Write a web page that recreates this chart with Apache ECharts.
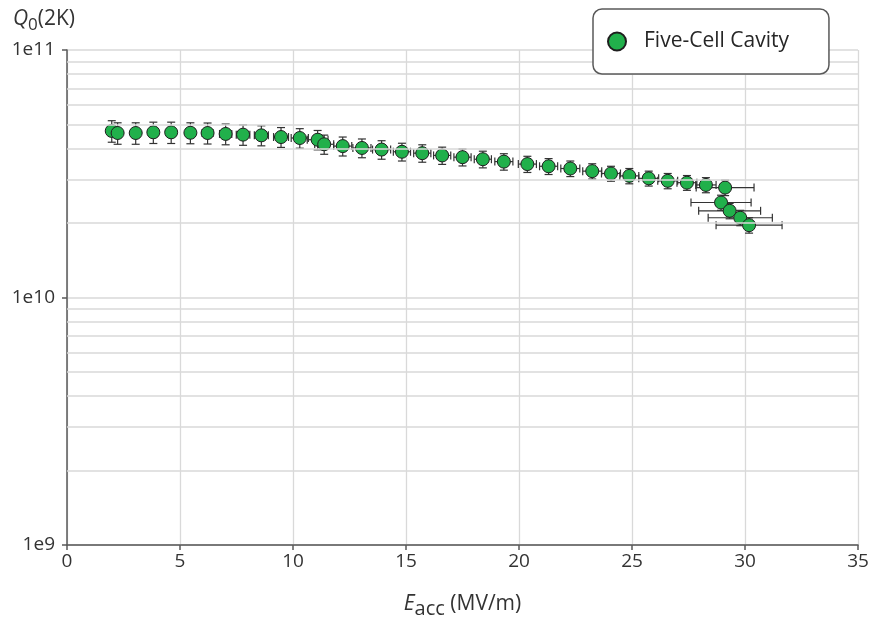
<!DOCTYPE html>
<html><head><meta charset="utf-8">
<script src="https://cdn.jsdelivr.net/npm/echarts@6/dist/echarts.min.js"></script>
<style>html,body{margin:0;padding:0;background:#fff}#chart{width:872px;height:620px}</style>
</head><body><div id="chart"></div>
<script>
const seriesName = 'Five-Cell Cavity';
// Accelerating gradient (MV/m)
const eacc = [1.98, 2.24, 3.04, 3.82, 4.61, 5.46, 6.22, 7.02, 7.79, 8.60,
  9.47, 10.30, 11.09, 11.38, 12.20, 13.05, 13.92, 14.82, 15.72, 16.60,
  17.50, 18.40, 19.33, 20.37, 21.31, 22.27, 23.24, 24.07, 24.88, 25.74,
  26.58, 27.43, 28.27, 29.12, 28.94, 29.32, 29.79, 30.18];
// Quality factor Q0 at 2 K
const q0 = [4.71e10, 4.62e10, 4.62e10, 4.65e10, 4.65e10, 4.63e10, 4.62e10, 4.58e10, 4.55e10, 4.52e10,
  4.45e10, 4.41e10, 4.34e10, 4.16e10, 4.09e10, 4.02e10, 3.96e10, 3.88e10, 3.83e10, 3.75e10,
  3.69e10, 3.62e10, 3.54e10, 3.46e10, 3.39e10, 3.32e10, 3.24e10, 3.17e10, 3.10e10, 3.03e10,
  2.96e10, 2.91e10, 2.85e10, 2.78e10, 2.42e10, 2.24e10, 2.10e10, 1.96e10];
// Error bars
const eaccErr = [0.08, 0.09, 0.12, 0.15, 0.18, 0.21, 0.24, 0.27, 0.30, 0.31,
  0.33, 0.38, 0.46, 0.42, 0.40, 0.40, 0.40, 0.38, 0.38, 0.38,
  0.38, 0.38, 0.40, 0.40, 0.40, 0.42, 0.42, 0.42, 0.42, 0.44,
  0.44, 0.44, 0.45, 1.28, 1.33, 1.37, 1.42, 1.46];
const q0Err = [0.47e10, 0.46e10, 0.46e10, 0.46e10, 0.46e10, 0.45e10, 0.45e10, 0.44e10, 0.43e10, 0.42e10,
  0.41e10, 0.40e10, 0.39e10, 0.37e10, 0.36e10, 0.35e10, 0.34e10, 0.32e10, 0.31e10, 0.30e10,
  0.29e10, 0.28e10, 0.27e10, 0.26e10, 0.25e10, 0.24e10, 0.23e10, 0.22e10, 0.22e10, 0.21e10,
  0.21e10, 0.20e10, 0.20e10, 0.20e10, 0.17e10, 0.16e10, 0.15e10, 0.14e10];
// Axis ticks
const xTicks = [0, 5, 10, 15, 20, 25, 30, 35];
const yTickValues = [1e9, 1e10, 1e11];
const yTickLabels = ['1e9', '1e10', '1e11'];
const yMinorGrid = [2e9, 3e9, 4e9, 5e9, 6e9, 7e9, 8e9, 9e9, 2e10, 3e10, 4e10, 5e10, 6e10, 7e10, 8e10, 9e10];

const FONT = '"Open Sans", sans-serif';
const TXT = '#333333';
const AXIS = '#595959';
const GRID = '#d9d9d9';

const points = eacc.map((x, i) => [x, q0[i]]);
const errData = eacc.map((x, i) => [x, q0[i], eaccErr[i], q0Err[i]]);

function renderErr(params, api) {
  const x = api.value(0), y = api.value(1), xe = api.value(2), ye = api.value(3);
  const c = api.coord([x, y]);
  const t = api.coord([x, y + ye]);
  const b = api.coord([x, y - ye]);
  const l = api.coord([x - xe, y]);
  const r = api.coord([x + xe, y]);
  const cap = 4;
  const style = { stroke: '#333333', lineWidth: 1.2, fill: null };
  const seg = (x1, y1, x2, y2) => ({ type: 'line', shape: { x1, y1, x2, y2 }, style });
  return { type: 'group', children: [
    seg(l[0], c[1], r[0], c[1]),
    seg(l[0], c[1] - cap, l[0], c[1] + cap),
    seg(r[0], c[1] - cap, r[0], c[1] + cap),
    seg(c[0], t[1], c[0], b[1]),
    seg(c[0] - cap, t[1], c[0] + cap, t[1]),
    seg(c[0] - cap, b[1], c[0] + cap, b[1])
  ]};
}

const chart = echarts.init(document.getElementById('chart'), null, { renderer: 'canvas' });
chart.setOption({
  animation: false,
  backgroundColor: '#fff',
  textStyle: { fontFamily: FONT },
  grid: { left: 67, right: 14, top: 50, bottom: 75, containLabel: false, outerBoundsMode: 'none' },
  legend: {
    left: 593, top: 9, z: 20,
    data: [{ name: seriesName, icon: 'circle' }],
    backgroundColor: '#fff', borderColor: AXIS, borderWidth: 1.5, borderRadius: 9,
    padding: [20, 40, 20, 14],
    itemWidth: 18, itemHeight: 18,
    textStyle: { fontFamily: FONT, fontSize: 21, color: '#262626', lineHeight: 25, padding: [0, 0, 0, 13] }
  },
  xAxis: {
    type: 'value', min: xTicks[0], max: xTicks[xTicks.length - 1], interval: 5,
    name: '{i|E}{sub|acc}{n| (MV/m)}', nameLocation: 'middle', nameGap: 45,
    nameTextStyle: {
      fontFamily: FONT, fontSize: 21, color: TXT, verticalAlign: 'top',
      rich: {
        i: { fontFamily: FONT, fontSize: 21, fontStyle: 'italic', color: TXT, verticalAlign: 'top', lineHeight: 28, height: 28 },
        sub: { fontFamily: FONT, fontSize: 20, color: TXT, verticalAlign: 'top', lineHeight: 28, height: 28, padding: [5, 0, 0, 0] },
        n: { fontFamily: FONT, fontSize: 21, color: TXT, verticalAlign: 'top', lineHeight: 28, height: 28 }
      }
    },
    axisLine: { lineStyle: { color: AXIS, width: 1.5 } },
    axisTick: { show: true, length: 5, lineStyle: { color: AXIS, width: 1.5 } },
    axisLabel: { fontFamily: FONT, fontSize: 19, color: TXT, margin: 7 },
    splitLine: { show: true, lineStyle: { color: GRID, width: 1.3 } }
  },
  yAxis: {
    type: 'log', logBase: 10, min: yTickValues[0], max: yTickValues[yTickValues.length - 1],
    name: '{i|Q}{sub|0}{n|(2K)}', nameLocation: 'end', nameGap: 16,
    nameTextStyle: {
      fontFamily: FONT, fontSize: 21, color: TXT, align: 'center', padding: [0, 46, 0, 0],
      rich: {
        i: { fontFamily: FONT, fontSize: 21, fontStyle: 'italic', color: TXT, verticalAlign: 'top', lineHeight: 30, height: 30 },
        sub: { fontFamily: FONT, fontSize: 17, color: TXT, verticalAlign: 'top', lineHeight: 30, height: 30, padding: [7, 0, 0, 0] },
        n: { fontFamily: FONT, fontSize: 21, color: TXT, verticalAlign: 'top', lineHeight: 30, height: 30 }
      }
    },
    axisLine: { show: true, lineStyle: { color: AXIS, width: 1.5 } },
    axisTick: { show: true, length: 5, lineStyle: { color: AXIS, width: 1.5 } },
    axisLabel: {
      fontFamily: FONT, fontSize: 19, color: TXT, margin: 12,
      formatter: v => {
        const i = yTickValues.findIndex(t => Math.abs(Math.log10(t) - Math.log10(v)) < 1e-6);
        return i >= 0 ? yTickLabels[i] : '';
      }
    },
    splitLine: { show: true, lineStyle: { color: GRID, width: 1.5 } }
  },
  series: [
    {
      type: 'line', data: [], silent: true, z: 1,
      markLine: {
        silent: true, symbol: ['none', 'none'], label: { show: false },
        lineStyle: { color: GRID, width: 1.5, type: 'solid' },
        emphasis: { disabled: true },
        data: yMinorGrid.map(v => ({ yAxis: v }))
      }
    },
    {
      type: 'custom', name: 'err', data: errData, renderItem: renderErr, z: 2,
      encode: { x: 0, y: 1 }, silent: true
    },
    {
      type: 'scatter', name: seriesName, data: points, z: 3,
      symbol: 'circle', symbolSize: 13,
      itemStyle: { color: '#21b04b', borderColor: '#1e1e1e', borderWidth: 1, opacity: 1 }
    }
  ]
});
</script>
</body></html>
